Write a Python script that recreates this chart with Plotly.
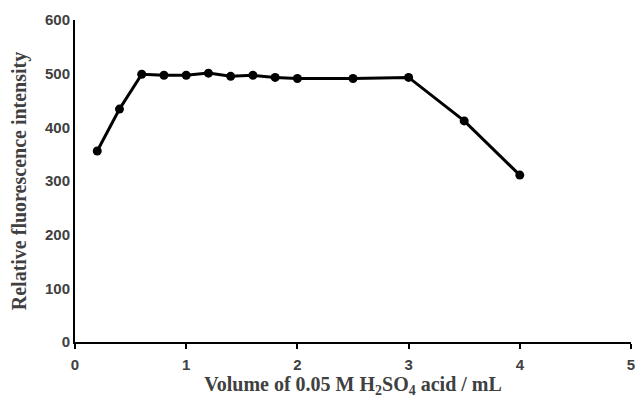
import plotly.graph_objects as go

volume = [0.2, 0.4, 0.6, 0.8, 1.0, 1.2, 1.4, 1.6, 1.8, 2.0, 2.5, 3.0, 3.5, 4.0]
intensity = [356, 434, 499, 497, 497, 501, 495, 497, 493, 491, 491, 493, 412, 311]
x_ticks = [0, 1, 2, 3, 4, 5]
y_ticks = [0, 100, 200, 300, 400, 500, 600]

fig = go.Figure()
fig.add_trace(go.Scatter(
    x=volume, y=intensity, mode="lines+markers",
    line=dict(color="black", width=3),
    marker=dict(color="black", size=9),
    showlegend=False,
))

tickfont = dict(family="Liberation Sans", size=15, color="#404040", weight="bold")
titlefont = dict(family="Liberation Serif", size=20, color="#404040", weight="bold")

fig.update_layout(
    width=636, height=404,
    margin=dict(l=75, r=5, t=20, b=62),
    paper_bgcolor="white", plot_bgcolor="white",
    xaxis=dict(
        range=[0, 5], tickvals=x_ticks, showgrid=False, zeroline=False,
        showline=True, linecolor="black", linewidth=2,
        ticks="outside", ticklen=5, tickwidth=2, tickcolor="black",
        tickfont=tickfont, automargin=False, ticklabelstandoff=3,
        title=dict(text="Volume of 0.05 M H<sub>2</sub>SO<sub>4</sub> acid / mL", font=titlefont, standoff=4),
    ),
    yaxis=dict(
        range=[0, 600], tickvals=y_ticks, showgrid=False, zeroline=False,
        showline=True, linecolor="black", linewidth=2,
        ticks="", tickfont=tickfont, automargin=False,
        title=dict(text="Relative fluorescence intensity", font=titlefont, standoff=13),
    ),
)

fig.write_html(
    "out.html",
    config={"displayModeBar": False},
    post_script="document.body.style.margin='0';document.body.style.overflow='hidden';",
)
